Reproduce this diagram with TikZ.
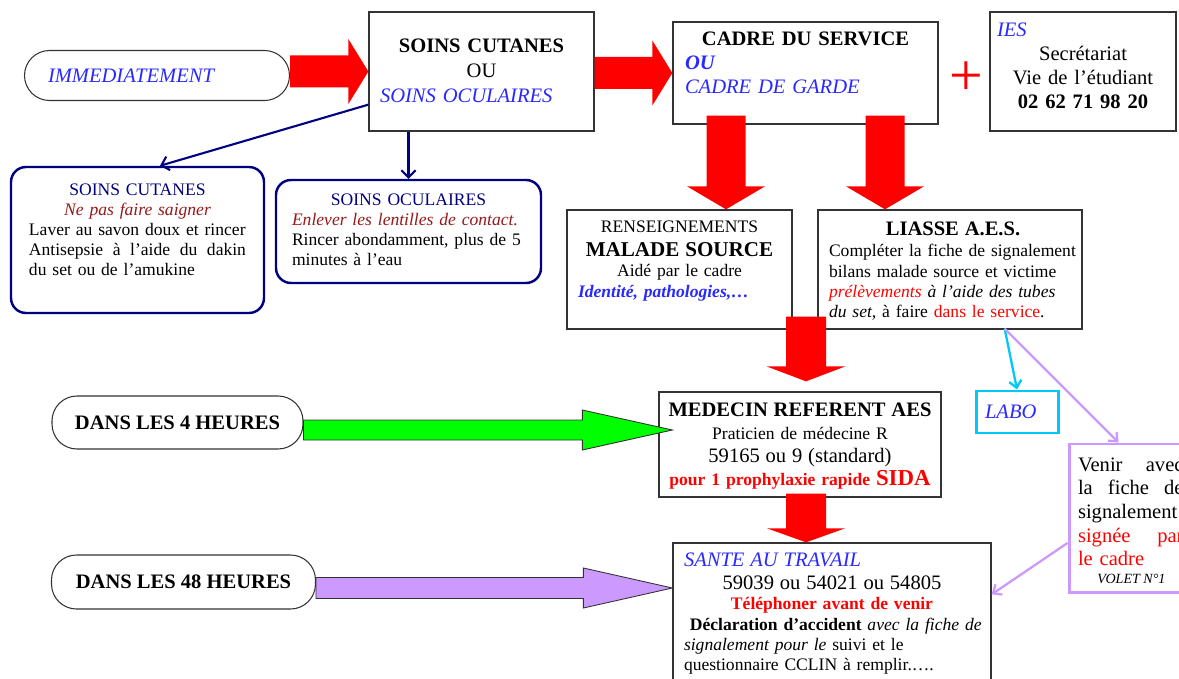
\documentclass[tikz,border=0pt]{standalone}
\usepackage{fontspec}
\setmainfont{Liberation Serif}
\usetikzlibrary{calc, arrows.meta, positioning}
\definecolor{textblue}{RGB}{40,40,255}
\definecolor{navyblue}{RGB}{0,0,128}
\definecolor{darkred}{RGB}{150,25,25}
\definecolor{arrowred}{RGB}{255,0,0}
\definecolor{arrowgreen}{RGB}{0,255,0}
\definecolor{lavender}{RGB}{204,153,255}
\definecolor{labocyan}{RGB}{0,200,250}
\newcommand\pu{0.02cm}
\newcommand\fbig{\fontsize{11.7}{14}\selectfont}
\newcommand\fmid{\fontsize{11.7}{13.5}\selectfont}
\newcommand\fbody{\fontsize{10}{11.5}\selectfont}
% fat arrows: style, from, tip, half shaft, half head, head length
\newcommand\fatright[6]{\filldraw[#1] ($(#2|-#3)+(0,#4)$) -- ($(#3)+(-#6,#4)$) -- ($(#3)+(-#6,#5)$) -- (#3)
  -- ($(#3)+(-#6,-#5)$) -- ($(#3)+(-#6,-#4)$) -- ($(#2|-#3)+(0,-#4)$) -- cycle;}
\newcommand\fatdown[6]{\filldraw[#1] ($(#3|-#2)+(-#4,0)$) -- ($(#3)+(-#4,-#6)$) -- ($(#3)+(-#5,-#6)$) -- (#3)
  -- ($(#3)+(#5,-#6)$) -- ($(#3)+(#4,-#6)$) -- ($(#3|-#2)+(#4,0)$) -- cycle;}
\tikzset{
  box/.style={draw=black!80, line width=0.75pt, inner sep=0pt},
  roundbox/.style={draw=navyblue, line width=1.4pt, rounded corners=0.3cm, inner sep=0pt},
  pill/.style={draw=black!80, line width=0.6pt, rounded corners=0.5cm, inner sep=0pt},
  labobox/.style={draw=labocyan, line width=1.7pt, inner sep=0pt},
  venirbox/.style={draw=lavender, line width=1.7pt, inner sep=0pt},
  txt/.style={anchor=base, inner sep=0pt},
  redarrow/.style={fill=arrowred, draw=none},
  greenarrow/.style={fill=arrowgreen, draw=black!80, line width=0.5pt},
  purplearrow/.style={fill=lavender, draw=black!80, line width=0.5pt},
  navyarrow/.style={draw=navyblue, line width=1.2pt, -{Straight Barb[length=4pt,width=8pt]}},
  thinarrow/.style={line width=1.3pt, -{Straight Barb[length=4pt,width=7pt]}}
}

\begin{document}
\begin{tikzpicture}[x=0.02cm, y=-0.02cm]
  \fill[white] (0,0) rectangle (1179,679);
  \useasboundingbox (0,0) rectangle (1179,679);
  \clip (0,0) rectangle (1179,679);

  % frames
  \node[pill, minimum width=265*\pu, minimum height=50*\pu, text width=218*\pu, align=left,
    font=\fbig\itshape, text=textblue] (imm) at (157,75.5) {IMMEDIATEMENT};
  \node[box, minimum width=225*\pu, minimum height=119*\pu] (soins) at (481.5,71.5) {};
  \node[box, minimum width=265*\pu, minimum height=102*\pu] (cadre) at (805.5,73) {};
  \node[box, minimum width=186*\pu, minimum height=119*\pu] (ies) at (1083,71.5) {};
  \node[text=arrowred, inner sep=0pt, font=\fontsize{34}{34}\selectfont] (plus) at (966,79) {+};
  \node[roundbox, minimum width=253*\pu, minimum height=146*\pu] (cut) at (137.5,240) {};
  \node[roundbox, minimum width=265*\pu, minimum height=103*\pu] (ocu) at (408.5,231.5) {};
  \node[box, minimum width=225*\pu, minimum height=119*\pu] (rens) at (679.5,269.5) {};
  \node[box, minimum width=264*\pu, minimum height=119*\pu] (liasse) at (950,269.5) {};
  \node[pill, minimum width=251*\pu, minimum height=53*\pu, font=\fbig\bfseries] (four) at (177.5,422.5) {DANS LES 4 HEURES};
  \node[box, minimum width=282*\pu, minimum height=105*\pu] (med) at (800,444.5) {};
  \node[labobox, minimum width=82*\pu, minimum height=42*\pu, text width=64*\pu, align=left,
    font=\fbig\itshape, text=textblue] (labo) at (1017,412) {LABO};
  \node[venirbox, minimum width=150*\pu, minimum height=148*\pu] (venir) at (1144,518) {};
  \node[pill, minimum width=264*\pu, minimum height=54*\pu, font=\fbig\bfseries] (fortyeight) at (183.5,582) {DANS LES 48 HEURES};
  \node[box, minimum width=318*\pu, minimum height=157*\pu] (sante) at (832,621.5) {};

  % fat arrows
  \fatright{redarrow}{imm.east}{soins.west}{16}{32.5}{20}
  \fatright{redarrow}{soins.east}{cadre.west}{16}{32.5}{20}
  \coordinate (topA) at ($(cadre.south)+(0,-9)$);
  \coordinate (tipA) at ($(rens.north)+(46.5,0)$);
  \coordinate (tipB) at ($(liasse.north)+(-65,0)$);
  \fatdown{redarrow}{topA}{tipA}{19.5}{39}{23}
  \fatdown{redarrow}{topA}{tipB}{19.5}{39}{23}
  \coordinate (topC) at ($(rens.south)+(0,-13)$);
  \coordinate (tipC) at ($(med.north)+(6,-10)$);
  \fatdown{redarrow}{topC}{tipC}{20}{39.5}{15}
  \coordinate (topD) at ($(med.south)+(0,-4)$);
  \coordinate (tipD) at ($(sante.north)+(-26,0)$);
  \fatdown{redarrow}{topD}{tipD}{20}{39}{14}
  \coordinate (greentip) at ($(med.west)+(14,-14.5)$);
  \fatright{greenarrow}{four.east}{greentip}{10}{20}{90}
  \coordinate (purpletip) at ($(sante.west)+(0,-33.5)$);
  \fatright{purplearrow}{fortyeight.east}{purpletip}{10.5}{20}{89}

  % thin connectors
  \draw[navyarrow] ($(soins.south west)+(0,-27)$) -- ($(cut.north)+(22.5,0)$);
  \draw[navyarrow] (soins.south -| ocu.north) -- (ocu.north);
  \coordinate (liasseout) at ($(liasse.south east)+(-78,-1)$);
  \draw[thinarrow, labocyan] (liasseout) -- (labo.north);
  \draw[thinarrow, lavender] (liasseout) -- ($(venir.north west)+(51,0)$);
  \draw[thinarrow, lavender] ($(venir.west)+(0,25)$) -- ($(sante.north east)+(0,52)$);

  % texts
  \node[txt, text width=203*\pu, align=center, font=\fbig] (soinstxt) at (481.5,53)
    {{\bfseries SOINS CUTANES}\\OU\\\makebox[\linewidth][l]{\color{textblue}\itshape SOINS OCULAIRES}};
  \node[txt, text width=241*\pu, align=center, font=\fmid] (cadretxt) at (805.5,46)
    {{\bfseries CADRE DU SERVICE}\\\makebox[\linewidth][l]{\color{textblue}\bfseries\itshape OU}\\
     \makebox[\linewidth][l]{\color{textblue}\itshape CADRE DE GARDE}};
  \node[txt, text width=172*\pu, align=center, font=\fmid] (iestxt) at (1083,37)
    {\makebox[\linewidth][l]{\color{textblue}\itshape IES}\\Secrétariat\\Vie de l’étudiant\\{\bfseries 02 62 71 98 20}};
  \node[txt, text width=217*\pu, align=center, font=\fbody] (cuttxt) at (137.5,195)
    {{\color{navyblue}SOINS CUTANES}\\{\color{darkred}\itshape Ne pas faire saigner}\\
     \makebox[\linewidth][l]{Laver au savon doux et rincer}\\
     \makebox[\linewidth][s]{Antisepsie\hfill à\hfill l’aide\hfill du\hfill dakin}\\
     \makebox[\linewidth][l]{du set ou de l’amukine}};
  \node[txt, text width=233*\pu, align=center, font=\fbody] (ocutxt) at (408.5,205)
    {{\color{navyblue}SOINS OCULAIRES}\\
     \makebox[\linewidth][l]{\color{darkred}\itshape Enlever les lentilles de contact.}\\
     \makebox[\linewidth][l]{Rincer abondamment, plus de 5}\\
     \makebox[\linewidth][l]{minutes à l’eau}};
  \node[txt, text width=203*\pu, align=center, font=\fbody] (renstxt) at (679.5,232)
    {RENSEIGNEMENTS\\[2.5pt]{\fontsize{12}{14}\selectfont\bfseries MALADE SOURCE}\\Aidé par le cadre\\
     \makebox[\linewidth][l]{\color{textblue}\bfseries\itshape Identité, pathologies,…}};
  \node[txt, text width=248*\pu, align=left, font=\fbody] (liassetxt) at (953,235)
    {\makebox[\linewidth]{\fbig\bfseries LIASSE A.E.S.}\\[1pt]
     \makebox[\linewidth][l]{Compléter la fiche de signalement}\\
     \makebox[\linewidth][l]{bilans malade source et victime}\\
     \makebox[\linewidth][l]{\itshape{\color{arrowred}prélèvements} à l’aide des tubes}\\
     \makebox[\linewidth][l]{{\itshape du set,} à faire {\color{arrowred}dans le service}.}};
  \node[txt, text width=276*\pu, align=center, font=\fontsize{10}{13}\selectfont] (medtxt) at (800,416.7)
    {{\fbig\bfseries MEDECIN REFERENT AES}\\Praticien de médecine R\\{\fbig 59165 ou 9 (standard)}\\
     {\color{arrowred}\bfseries pour 1 prophylaxie rapide {\fontsize{13}{13}\selectfont SIDA}}};
  \node[txt, text width=296*\pu, align=left, font=\fbody] (santetxt) at (832,566)
    {\makebox[\linewidth][l]{\fbig\itshape\color{textblue}SANTE AU TRAVAIL}\\[2pt]
     \makebox[\linewidth]{\fbig 59039 ou 54021 ou 54805}\\
     \makebox[\linewidth]{\bfseries\color{arrowred}Téléphoner avant de venir}\\
     \makebox[\linewidth][l]{\ \textbf{Déclaration d’accident} \textit{avec la fiche de}}\\
     \makebox[\linewidth][l]{\textit{signalement pour le} suivi et le}\\
     \makebox[\linewidth][l]{questionnaire CCLIN à remplir.….}};
  \node[txt, text width=105.5*\pu, align=left, font=\fmid] (venirtxt) at (1130.75,471)
    {\makebox[\linewidth][s]{Venir\hfill avec}\\\makebox[\linewidth][s]{la\hfill fiche\hfill de}\\
     \makebox[\linewidth][l]{signalement}\\\makebox[\linewidth][s]{\color{arrowred}signée\hfill par}\\
     \makebox[\linewidth][l]{\color{arrowred}le cadre}};
  \node[anchor=base west, inner sep=0pt, font=\fontsize{8}{9}\selectfont\itshape] (volet) at (1097,583) {VOLET N°1};
\end{tikzpicture}
\end{document}
